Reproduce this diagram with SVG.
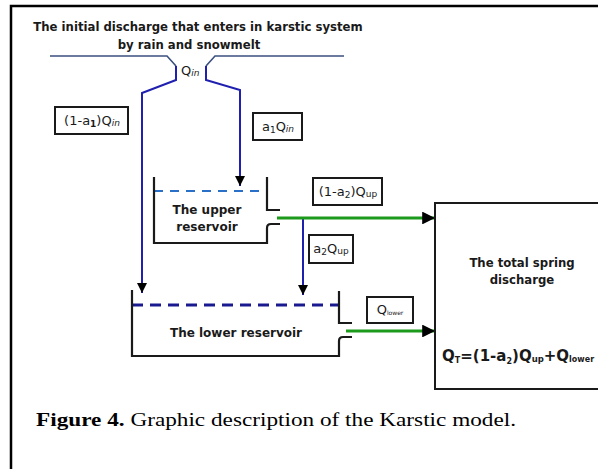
<svg xmlns="http://www.w3.org/2000/svg" width="598" height="469" viewBox="0 0 598 469">
<style>
.t{font-family:"DejaVu Sans",Verdana,sans-serif;font-weight:bold;fill:#1a1a1a}
.l{font-family:"DejaVu Sans",Verdana,sans-serif;fill:#1a1a1a;font-size:13px}
.s{font-size:9px}
.box{fill:#fff;stroke:#1a1a1a;stroke-width:2}
.wall{fill:none;stroke:#1a1a1a;stroke-width:2.2}
.blue{fill:none;stroke:#2020b0;stroke-width:2}
.green{fill:none;stroke:#1c9a1c;stroke-width:3.2}
.cap{font-family:"Liberation Serif","Times New Roman",serif;font-size:19px;fill:#000}
</style>
<defs>
<marker id="ah" viewBox="0 0 10 10" refX="10" refY="5" markerWidth="5" markerHeight="5" orient="auto" markerUnits="strokeWidth">
<path d="M0,0 L10,5 L0,10 z" fill="#000"/>
</marker>
<marker id="ahg" viewBox="0 0 10 10" refX="10" refY="5" markerWidth="4" markerHeight="4" orient="auto" markerUnits="strokeWidth">
<path d="M0,0 L10,5 L0,10 z" fill="#000"/>
</marker>
</defs>
<rect width="598" height="469" fill="#fff"/>
<path d="M11,469 V6 H598" fill="none" stroke="#000" stroke-width="2.5"/>

<g id="title">
<text class="t" x="198" y="31" font-size="11.7" text-anchor="middle">The initial discharge that enters in karstic system</text>
<text class="t" x="189" y="49" font-size="11.7" text-anchor="middle">by rain and snowmelt</text>
</g>

<g id="inflow">
<path d="M50,56 H167 L176,66" fill="none" stroke="#3a5080" stroke-width="1.6"/>
<path d="M344,56 H215 L206,66" fill="none" stroke="#3a5080" stroke-width="1.6"/>
<text class="l" x="181" y="75" font-size="12">Q<tspan class="s" font-style="italic" dy="1" font-size="8">in</tspan></text>
</g>

<g id="connectors">
<path class="blue" d="M176,66 V80 L142,93 V293" marker-end="url(#ah)"/>
<path class="blue" d="M206,66 V80 L240,90 V186" marker-end="url(#ah)"/>
<path class="blue" d="M303,218 V295" marker-end="url(#ah)"/>
<path class="green" d="M277,218 H435" marker-end="url(#ahg)"/>
<path class="green" d="M346,331 H435" marker-end="url(#ahg)"/>
</g>

<g id="label-1a1">
<rect class="box" x="55" y="107" width="73" height="27"/>
<text class="l" x="92" y="125" text-anchor="middle">(1-a<tspan class="s" font-weight="bold" dy="2">1</tspan><tspan dy="-2">)Q</tspan><tspan class="s" font-style="italic" dy="1">in</tspan></text>
</g>

<g id="label-a1">
<rect class="box" x="253" y="113" width="49" height="27"/>
<text class="l" x="278" y="131" text-anchor="middle">a<tspan class="s" dy="2">1</tspan><tspan dy="-2">Q</tspan><tspan class="s" font-style="italic" dy="1">in</tspan></text>
</g>

<g id="upper-reservoir">
<path d="M154,191 H267" fill="none" stroke="#2a6fc8" stroke-width="2" stroke-dasharray="9,7"/>
<path class="wall" d="M154,177 V243 H267 V228 Q267,224 271,224 H280"/>
<path class="wall" d="M267,177 V210 H280"/>
<text class="t" x="207" y="214" font-size="12" text-anchor="middle">The upper</text>
<text class="t" x="207" y="231" font-size="12" text-anchor="middle">reservoir</text>
</g>

<g id="label-1a2">
<rect class="box" x="313" y="178" width="69" height="27"/>
<text class="l" x="348" y="196" text-anchor="middle">(1-a<tspan class="s" dy="2">2</tspan><tspan dy="-2">)Q</tspan><tspan class="s" dy="1">up</tspan></text>
</g>

<g id="label-a2">
<rect class="box" x="309" y="235" width="44" height="28"/>
<text class="l" x="331" y="253" text-anchor="middle">a<tspan class="s" dy="2">2</tspan><tspan dy="-2">Q</tspan><tspan class="s" dy="1">up</tspan></text>
</g>

<g id="lower-reservoir">
<path d="M132,305 H339" fill="none" stroke="#1a1a90" stroke-width="3" stroke-dasharray="11,7"/>
<path class="wall" d="M132,290 V356 H339 V341 Q339,337 343,337 H352"/>
<path class="wall" d="M339,291 V323 H352"/>
<text class="t" x="236" y="337" font-size="12" text-anchor="middle">The lower reservoir</text>
</g>

<g id="label-qlower">
<rect class="box" x="367" y="297" width="46" height="26"/>
<text class="l" x="390" y="314" text-anchor="middle" font-size="12">Q<tspan font-size="6" dy="1">lower</tspan></text>
</g>

<g id="total">
<rect class="box" x="435" y="203" width="170" height="186"/>
<text class="t" x="522" y="267" font-size="11.7" text-anchor="middle">The total spring</text>
<text class="t" x="522" y="284" font-size="11.7" text-anchor="middle">discharge</text>
<text class="t" x="442" y="361" font-size="15">Q<tspan font-size="8" dy="2">T</tspan><tspan dy="-2">=(1-a</tspan><tspan font-size="8" dy="3">2</tspan><tspan dy="-3">)Q</tspan><tspan font-size="8.5" dy="1">up</tspan><tspan dy="-1">+Q</tspan><tspan font-size="8" dy="1">lower</tspan></text>
</g>

<g id="caption">
<text class="cap" x="36" y="426" textLength="480" lengthAdjust="spacingAndGlyphs"><tspan font-weight="bold">Figure 4.</tspan> Graphic description of the Karstic model.</text>
</g>
</svg>
